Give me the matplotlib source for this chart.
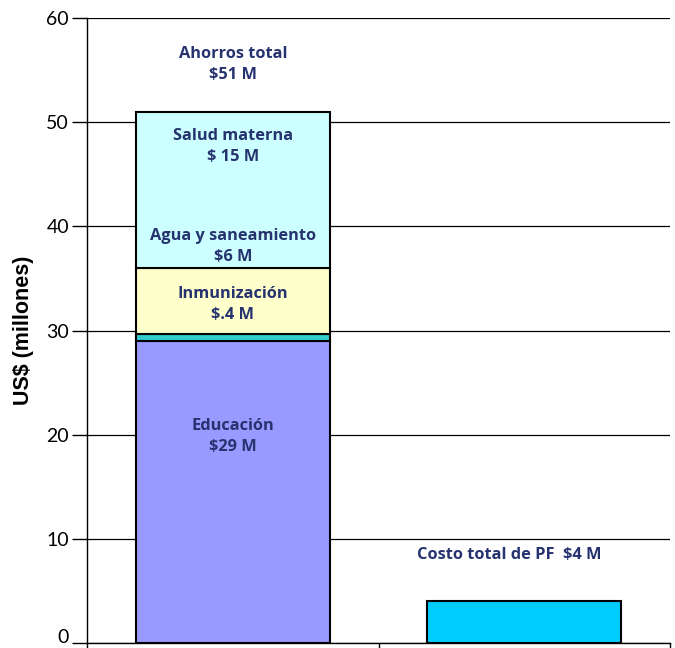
import numpy as np
import matplotlib.pyplot as plt
import matplotlib.transforms as mtransforms

# stacked savings components (US$ millions) and the cost bar
segments = ['Educación', 'Inmunización', 'Agua y saneamiento', 'Salud materna']
seg_values = [29, 0.7, 6.3, 15]
seg_colors = ['#9999FF', '#33CCCC', '#FFFFCC', '#CCFFFF']
cost_value = 4
cost_color = '#00CCFF'

labels = ['Ahorros total\n$51 M', 'Salud materna\n$ 15 M', 'Agua y saneamiento\n$6 M',
          'Inmunización\n$.4 M', 'Educación\n$29 M']
label_y = [55.5, 47.7, 38.1, 32.5, 19.8]
cost_label = 'Costo total de PF  $4 M'

navy = '#26336F'

fig = plt.figure(figsize=(6.75, 6.48), dpi=100)
ax = fig.add_axes([0.129, 0.0077, 0.8637, 0.9645])

bottom = 0
for v, c in zip(seg_values, seg_colors):
    ax.bar(0, v, bottom=bottom, width=0.665, color=c, edgecolor='black', linewidth=1.5, zorder=3)
    bottom += v
ax.bar(1, cost_value, width=0.665, color=cost_color, edgecolor='black', linewidth=1.5, zorder=3)

for t, y in zip(labels, label_y):
    ax.text(0, y, t, ha='center', va='center', fontsize=11.8, fontweight='bold',
            color=navy, family='Open Sans', linespacing=1.4, zorder=4)
ax.text(0.95, 8.45, cost_label, ha='center', va='center', fontsize=11.8, fontweight='bold',
        color=navy, family='Open Sans', zorder=4)

ax.set_xlim(-0.5, 1.5)
ax.set_ylim(0, 60)
ax.set_yticks(np.arange(0, 61, 10))
ax.set_yticklabels([str(v) for v in range(0, 61, 10)], family='Lato', fontsize=14)
ax.set_xticks([-0.5, 0.5, 1.5])
ax.set_xticklabels([])
ax.tick_params(axis='y', length=11, width=1, pad=2)
ax.tick_params(axis='x', length=5, width=1)
ax.yaxis.grid(True, color='black', linewidth=0.9, zorder=0)
ax.set_axisbelow(True)
for s in ['top', 'right']:
    ax.spines[s].set_visible(False)
ax.spines['left'].set_linewidth(1)
ax.spines['bottom'].set_linewidth(1)
ax.set_ylabel('US$ (millones)', fontsize=15.5, fontweight='bold', family='Liberation Sans', labelpad=9)

# lift the zero label a little so it stays inside the picture
zero = ax.get_yticklabels()[0]
zero.set_transform(zero.get_transform() + mtransforms.ScaledTranslation(0, 5 / 72, fig.dpi_scale_trans))

fig.savefig('out.png', dpi=100)
